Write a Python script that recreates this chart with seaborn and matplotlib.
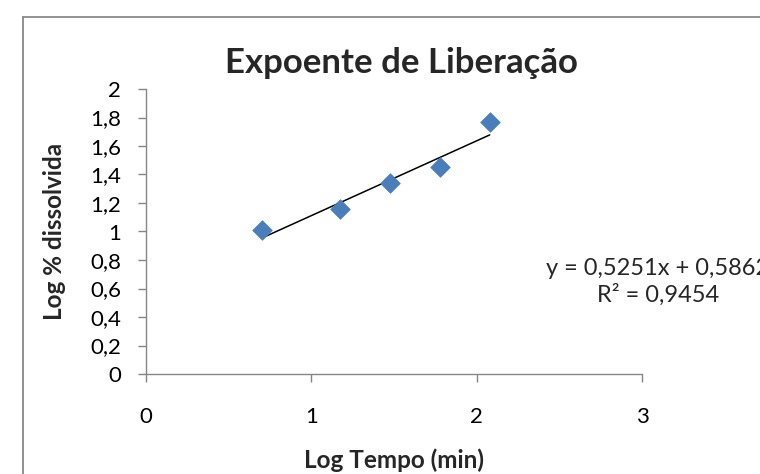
import matplotlib
matplotlib.use("Agg")
import matplotlib.pyplot as plt
from matplotlib.lines import Line2D
from matplotlib.ticker import FuncFormatter, MultipleLocator
import pandas as pd
import seaborn as sns

# Release data (log10 of time in minutes vs log10 of % dissolved)
log_tempo = [0.699, 1.176, 1.477, 1.778, 2.079]
log_dissolvida = [1.01, 1.16, 1.34, 1.45, 1.765]

# Linear trendline reported for the series
slope = 0.5251
intercept = 0.5862
r_squared = 0.9454

title = "Expoente de Liberação"
x_label = "Log Tempo (min)"
y_label = "Log % dissolvida"

sns.set_theme(style="white")
plt.rcParams["font.family"] = ["Lato", "DejaVu Sans"]

W, H = 760, 474
fig = plt.figure(figsize=(W / 100, H / 100), dpi=100)
fig.patch.set_facecolor("white")

ax_left, ax_right, ax_top, ax_bottom = 146, 642, 89, 374
ax = fig.add_axes([ax_left / W, 1 - ax_bottom / H,
                   (ax_right - ax_left) / W, (ax_bottom - ax_top) / H])

df = pd.DataFrame({"x": log_tempo, "y": log_dissolvida})
sns.scatterplot(data=df, x="x", y="y", ax=ax, marker="D", s=100,
                color="#4A7EBB", edgecolor="#4A7EBB", linewidth=0.5, zorder=3)

trend = pd.DataFrame({"x": [min(log_tempo), max(log_tempo)]})
trend["y"] = slope * trend["x"] + intercept
sns.lineplot(data=trend, x="x", y="y", ax=ax, color="black", linewidth=1.1, zorder=2)

ax.set_xlim(0, 3)
ax.set_ylim(0, 2)
ax.xaxis.set_major_locator(MultipleLocator(1))
ax.yaxis.set_major_locator(MultipleLocator(0.2))

fmt = FuncFormatter(lambda v, p: f"{round(v, 1):g}".replace(".", ","))
ax.xaxis.set_major_formatter(fmt)
ax.yaxis.set_major_formatter(fmt)

axis_grey = "#868686"
for side in ["top", "right"]:
    ax.spines[side].set_visible(False)
for side in ["left", "bottom"]:
    ax.spines[side].set_color(axis_grey)
    ax.spines[side].set_linewidth(1.0)

ax.tick_params(axis="both", which="major", direction="out", length=6,
               width=1.0, color=axis_grey, labelcolor="black", labelsize=16)
ax.tick_params(axis="y", pad=12)
ax.tick_params(axis="x", pad=18)
ax.tick_params(left=True, bottom=True)

ax_w = ax_right - ax_left
ax_h = ax_bottom - ax_top
ax.set_xlabel(x_label, fontsize=17.5, fontweight="bold")
ax.xaxis.label.set_va("center")
ax.xaxis.set_label_coords(0.5, -(460 - ax_bottom) / ax_h)
ax.set_ylabel(y_label, fontsize=17.5, fontweight="bold")
ax.yaxis.label.set_va("center")
ax.yaxis.set_label_coords(-(ax_left - 54) / ax_w, 0.5)

fig.text(401 / W, 1 - 73 / H, title, ha="center", va="baseline",
         fontsize=25, fontweight="bold")

eq = f"y = {slope:.4f}x + {intercept:.4f}".replace(".", ",")
r2 = f"R² = {r_squared:.4f}".replace(".", ",")
fig.text(658 / W, 1 - 282 / H, eq + "\n" + r2, ha="center", va="center",
         fontsize=17, linespacing=1.22)

# chart area border (only top and left edges fall inside the image)
fig.add_artist(Line2D([23 / W, 23 / W], [1 - 17 / H, 0], transform=fig.transFigure,
                      color="#888888", linewidth=1.3))
fig.add_artist(Line2D([23 / W, 1], [1 - 17 / H, 1 - 17 / H], transform=fig.transFigure,
                      color="#888888", linewidth=1.3))

fig.savefig("out.png", dpi=100, facecolor="white")
